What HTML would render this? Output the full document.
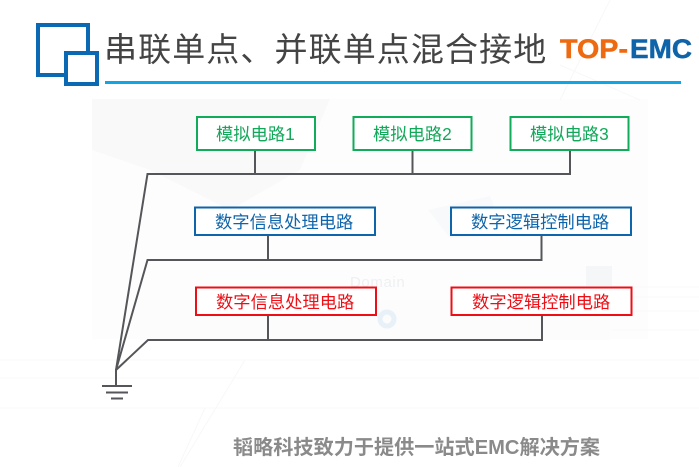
<!DOCTYPE html>
<html><head><meta charset="utf-8">
<style>
html,body{margin:0;padding:0;background:#fff}
svg{display:block}
text{font-family:"Liberation Sans","Noto Sans CJK SC",sans-serif}
</style></head>
<body>
<svg width="699" height="467" viewBox="0 0 699 467" xmlns="http://www.w3.org/2000/svg">
<rect width="699" height="467" fill="#fff"/>
<!-- faint background -->
<rect x="92" y="99" width="556" height="240" fill="#fdfdfd"/>
<path d="M92 99H330L300 170 230 210 150 170 92 150Z" fill="#f9f9f9"/>
<path d="M428 210L490 196 505 236 450 238Z" fill="#f8f9fb"/>
<rect x="586" y="266" width="26" height="20" fill="#f5f6f7"/>
<rect x="140" y="300" width="470" height="40" fill="#fcfcfc"/>
<path d="M0 360H699M0 378H699M0 408H699M612 287H699M612 297H699M612 311H699M612 330H699" stroke="#f9f9f9" fill="none"/>
<path d="M245 360L180 467M205 408L178 467M610 0L560 100M560 65L640 100" stroke="#f8f8f8" fill="none"/>
<text x="350" y="287" font-size="15" fill="#eef0f2" letter-spacing="0.6">Domain</text>
<circle cx="387" cy="319" r="7" fill="none" stroke="#e8f1f8" stroke-width="5"/>

<!-- header -->
<rect x="38" y="25" width="50" height="50" fill="none" stroke="#0b69b4" stroke-width="4"/>
<rect x="66" y="53" width="31" height="31" fill="#fff" stroke="#0b69b4" stroke-width="4"/>
<text x="104" y="61" font-size="33" letter-spacing="1.100" fill="#444">串联单点、并联单点混合接地</text>
<rect x="105" y="81" width="576" height="3" fill="#10a5e5"/>
<text x="560" y="58" font-size="27" font-weight="bold" fill="#ee6a10" stroke="#ee6a10" stroke-width="0.5" textLength="68" lengthAdjust="spacingAndGlyphs">TOP-</text>
<text x="630" y="58" font-size="27" font-weight="bold" fill="#0f63a8" stroke="#0f63a8" stroke-width="0.5" textLength="62" lengthAdjust="spacingAndGlyphs">EMC</text>

<!-- wires -->
<g fill="none" stroke="#55565a" stroke-width="2">
<path d="M116 370L147.500 174H570V150M255 150V174M412.500 150V174"/>
<path d="M116 370L147.500 260H541.500V236M268 236V260"/>
<path d="M116 370L148 340H542V316M268 316V340"/>
<path d="M116 369V386"/>
</g>
<g fill="none" stroke="#55565a" stroke-width="2">
<path d="M102 386H132M106 392.500H128M111 398.500H123"/>
</g>

<!-- boxes -->
<g fill="#fff" stroke-width="2">
<rect x="197" y="117" width="118" height="33" stroke="#10ac5a"/>
<rect x="353.500" y="117" width="118" height="33" stroke="#10ac5a"/>
<rect x="510.500" y="117" width="118" height="33" stroke="#10ac5a"/>
<rect x="195" y="207.500" width="180" height="27.500" stroke="#0f65ab"/>
<rect x="451" y="207.500" width="180" height="27.500" stroke="#0f65ab"/>
<rect x="196" y="287.500" width="180" height="27.500" stroke="#ee0f16"/>
<rect x="451.500" y="287.500" width="180" height="27.500" stroke="#ee0f16"/>
</g>
<g font-size="17.300">
<g fill="#12a85a">
<text x="216" y="140">模拟电路1</text>
<text x="373" y="140">模拟电路2</text>
<text x="530" y="140">模拟电路3</text>
</g>
<g fill="#0f65ab">
<text x="215" y="228">数字信息处理电路</text>
<text x="471" y="228">数字逻辑控制电路</text>
</g>
<g fill="#ee0f16">
<text x="216" y="308">数字信息处理电路</text>
<text x="472" y="308">数字逻辑控制电路</text>
</g>
</g>
<text x="233" y="454" font-size="20.150" font-weight="bold" fill="#8a8a8a">韬略科技致力于提供一站式EMC解决方案</text>
</svg>
</body></html>
